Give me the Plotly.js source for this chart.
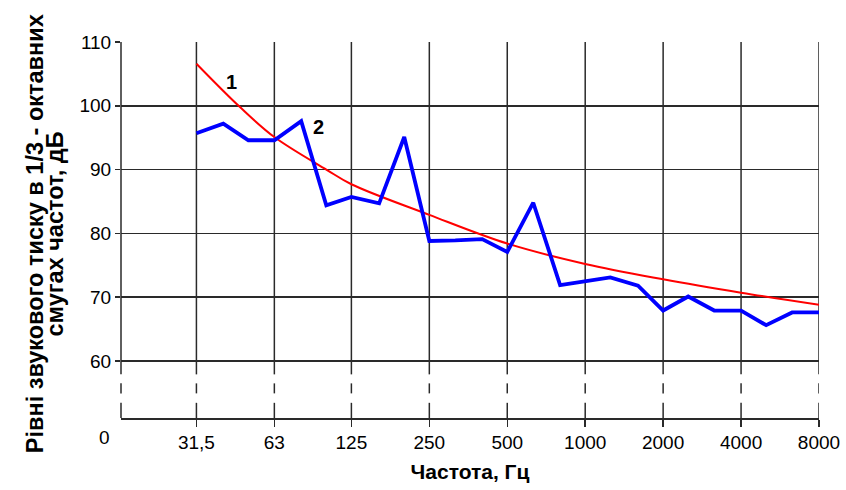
<!DOCTYPE html>
<html>
<head>
<meta charset="utf-8">
<script src="https://cdn.plot.ly/plotly-3.0.1.min.js"></script>
<style>html,body{margin:0;padding:0;background:#fff;}#chart{width:846px;height:490px;}</style>
</head>
<body>
<div id="chart"></div>
<script>
// 1/3-octave band centre frequencies, Hz (series 2)
const bandFreq = [31.5, 40, 50, 63, 80, 100, 125, 160, 200, 250, 315, 400, 500, 630, 800, 1000, 1250, 1600, 2000, 2500, 3150, 4000, 5000, 6300, 8000];
// Series 2 (blue): measured levels, dB
const measuredLevel = [95.7, 97.2, 94.6, 94.6, 97.6, 84.4, 85.7, 84.7, 95.1, 78.8, 78.9, 79.1, 77.1, 84.8, 71.9, 72.5, 73.1, 71.8, 67.9, 70.1, 67.9, 67.9, 65.6, 67.6, 67.6];
// Series 1 (red): smooth limit curve, dB
const curveFreq = [31.5, 46.4, 63, 100, 125, 250, 500, 1000, 2000, 4000, 8000];
const curveLevel = [106.6, 99.8, 95.1, 90.0, 87.7, 82.9, 78.4, 75.2, 72.8, 70.7, 68.8];
// Axis ticks
const xTickFreq = [31.5, 63, 125, 250, 500, 1000, 2000, 4000, 8000];
const xTickText = ['31,5', '63', '125', '250', '500', '1000', '2000', '4000', '8000'];
const yTickVals = [60, 70, 80, 90, 100, 110];
// Series labels
const seriesLabels = ['1', '2'];
const labelFreq = [43.1, 93.5];
const labelLevel = [103.7, 96.7];
// Axis titles
const xTitle = 'Частота, Гц';
const yTitleLines = ['Рівні звукового тиску в 1/3 - октавних', 'смугах частот, дБ'];

const lg = v => Math.log10(v);
const xMin = 1.207, xMax = lg(8000);
const yMin = 51.05, yMax = 110;
const gridColor = '#2a2a2a';
const FONT = 'Liberation Sans, Arial, sans-serif';

const traces = [
  {x: curveFreq.map(lg), y: curveLevel, mode: 'lines', line: {color: '#ff0000', width: 2, shape: 'spline', smoothing: 1}, hoverinfo: 'skip'},
  {x: bandFreq.map(lg), y: measuredLevel, mode: 'lines', line: {color: '#0000ff', width: 3.8}, hoverinfo: 'skip'}
];

// vertical grid with broken-axis dashes below 60
const segs = [[60, 110], [57.89, 60], [54.91, 56.48], [yMin, 53.43]];
const shapes = [];
function vline(xref, x) {
  segs.forEach(s => shapes.push({type: 'line', layer: 'below', xref: xref, yref: 'y', x0: x, x1: x, y0: s[0], y1: s[1], line: {color: gridColor, width: 1.5}}));
}
vline('paper', 0);
xTickFreq.forEach(f => vline('x', lg(f)));

const annotations = seriesLabels.map((t, i) => ({
  x: lg(labelFreq[i]), y: labelLevel[i], xref: 'x', yref: 'y', text: t, showarrow: false,
  font: {family: FONT, size: 20, color: '#000', weight: 'bold'}
}));
annotations.push({x: -0.023, y: -0.052, xref: 'paper', yref: 'paper', xanchor: 'center', yanchor: 'middle', text: '0', showarrow: false,
  font: {family: FONT, size: 19, color: '#000'}});
// y-axis title, two rotated lines
[-0.124, -0.095].forEach((px, i) => annotations.push({
  x: px, y: 0.49, xref: 'paper', yref: 'paper', xanchor: 'center', yanchor: 'middle', textangle: -90,
  text: yTitleLines[i], showarrow: false, font: {family: FONT, size: 23.5, color: '#000', weight: 'bold'}
}));

const layout = {
  width: 846, height: 490,
  margin: {l: 121, r: 27, t: 42, b: 72},
  paper_bgcolor: '#fff', plot_bgcolor: '#fff',
  showlegend: false,
  font: {family: FONT, size: 19, color: '#000'},
  xaxis: {
    type: 'linear', range: [xMin, xMax], tickmode: 'array', tickvals: xTickFreq.map(lg), ticktext: xTickText,
    showgrid: false, zeroline: false, showline: true, linecolor: gridColor, linewidth: 1.5,
    ticks: 'outside', ticklen: 7, tickcolor: gridColor, tickwidth: 1.5,
    tickfont: {family: FONT, size: 19, color: '#000'},
    title: {text: xTitle, font: {family: FONT, size: 21, color: '#000', weight: 'bold'}, standoff: 12}
  },
  yaxis: {
    range: [yMin, yMax], tickmode: 'array', tickvals: yTickVals,
    showgrid: true, gridcolor: gridColor, gridwidth: 1.5, zeroline: false, showline: false,
    ticks: 'outside', ticklen: 5, tickcolor: gridColor, tickwidth: 1.5,
    tickfont: {family: FONT, size: 19, color: '#000'}
  },
  shapes: shapes,
  annotations: annotations
};

Plotly.newPlot('chart', traces, layout, {staticPlot: true, displayModeBar: false});
</script>
</body>
</html>
